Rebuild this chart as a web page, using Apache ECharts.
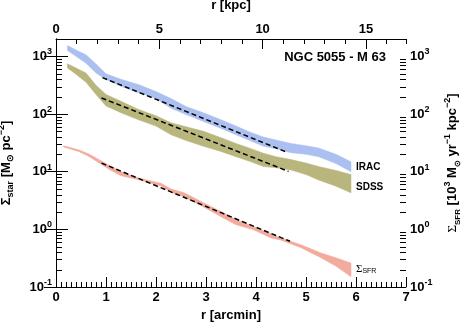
<!DOCTYPE html>
<html>
<head>
<meta charset="utf-8">
<script src="https://cdn.jsdelivr.net/npm/echarts@6/dist/echarts.min.js"></script>
<style>
html, body { margin: 0; padding: 0; background: #fff; }
#chart { width: 463px; height: 327px; }
</style>
</head>
<body>
<div id="chart"></div>
<script>
// radius in arcmin, surface densities
const starX = [0.23, 0.4, 0.6, 0.8, 1.0, 1.3, 1.65, 2.0, 2.3, 2.6, 2.95, 3.3, 3.6, 3.9, 4.15, 4.4, 4.7, 5.0, 5.25, 5.6, 5.9];
const iracHi = [1550, 1290, 1070, 740, 500, 400, 324, 245, 186, 135, 105, 79.4, 61.7, 47.9, 39.8, 35.5, 30.9, 28.2, 25.7, 20.0, 14.8];
const iracLo = [1260, 1000, 759, 513, 398, 302, 234, 186, 126, 97.7, 74.1, 56.2, 43.7, 33.9, 27.5, 25.1, 21.4, 20.0, 18.2, 13.8, 10.0];
const sdssHi = [741, 631, 513, 316, 219, 166, 120, 93.3, 70.8, 60.3, 50.1, 38.9, 30.9, 25.1, 20.9, 18.2, 16.2, 14.1, 12.3, 10.5, 8.9];
const sdssLo = [631, 490, 355, 219, 138, 105, 79.4, 61.7, 43.7, 34.7, 27.5, 22.4, 18.2, 14.8, 12.3, 11.7, 10.7, 8.9, 7.2, 5.6, 4.3];

const sfrX = [0.15, 0.45, 0.65, 0.9, 1.1, 1.3, 1.65, 1.9, 2.1, 2.3, 2.55, 2.75, 2.95, 3.3, 3.6, 3.95, 4.3, 4.5, 4.9, 5.3, 5.6, 5.9];
const sfrHi = [28.2, 24.0, 20.4, 15.5, 12.3, 10.0, 7.76, 6.92, 6.31, 5.01, 4.37, 3.55, 2.88, 2.04, 1.48, 1.12, 0.83, 0.71, 0.54, 0.39, 0.32, 0.26];
const sfrLo = [26.9, 22.4, 18.6, 13.5, 10.5, 8.51, 7.24, 6.31, 5.62, 4.37, 3.72, 3.02, 2.45, 1.66, 1.20, 0.98, 0.71, 0.65, 0.48, 0.32, 0.23, 0.15];

// exponential fits (end points)
const iracFit = [[0.93, 427], [4.64, 21.4]];
const sdssFit = [[0.91, 190], [4.65, 10.1]];
const sfrFit = [[0.91, 14.1], [4.68, 0.62]];

const xMin = 0, xMax = 7;
const yMin = 0.1, yMax = 2000;
const kpcPerArcmin = 2.42;
const decades = [0.1, 1, 10, 100, 1000];

// log minor ticks 2..9 per decade
const minorVals = [];
decades.forEach(function (d) {
  for (let k = 2; k <= 9; k++) {
    const v = d * k;
    if (v < yMax) minorVals.push([0, v]);
  }
});

const chart = echarts.init(document.getElementById('chart'));
const font = 'Liberation Sans, Arial, sans-serif';
const black = '#000';

function bandSeries(name, xs, lo, hi, color) {
  return {
    type: 'custom',
    name: name,
    xAxisIndex: 0,
    yAxisIndex: 0,
    data: xs.map(function (x, i) { return [x, lo[i], hi[i]]; }),
    encode: { x: 0, y: [1, 2] },
    renderItem: function (params, api) {
      if (params.dataIndex !== 0) return null;
      const pts = [];
      for (let i = 0; i < xs.length; i++) pts.push(api.coord([xs[i], hi[i]]));
      for (let i = xs.length - 1; i >= 0; i--) pts.push(api.coord([xs[i], lo[i]]));
      return { type: 'polygon', shape: { points: pts }, style: { fill: color, stroke: color, lineWidth: 0.5 } };
    },
    z: 2
  };
}

function fitSeries(pts) {
  return {
    type: 'line',
    data: pts,
    symbol: 'none',
    lineStyle: { color: black, width: 1.5, type: [5, 3] },
    z: 5
  };
}

const sup = { fontSize: 9, fontWeight: 'bold', fontFamily: font, color: black, verticalAlign: 'top', padding: [0, 0, 6, 0] };
const big = { fontSize: 13, fontWeight: 'bold', fontFamily: font, color: black, lineHeight: 18 };
function powLabel(v) {
  const e = Math.round(Math.log10(v));
  if (Math.abs(Math.log10(v) - e) > 1e-6) return '';
  return '{b|10}{s|' + e + '}';
}

const logAxis = {
  type: 'log',
  logBase: 10,
  min: yMin,
  max: yMax,
  axisLine: { show: true, lineStyle: { color: black, width: 1 } },
  axisTick: { inside: true, length: 12, lineStyle: { color: black } },
  splitLine: { show: false },
  axisLabel: { formatter: powLabel, rich: { b: big, s: sup }, margin: 4, showMaxLabel: false },
  nameLocation: 'middle',
  nameRotate: 90
};

chart.setOption({
  animation: false,
  backgroundColor: '#fff',
  grid: { left: 56, right: 57, top: 39, bottom: 40, containLabel: false, outerBoundsMode: 'none' },
  xAxis: [
    {
      type: 'value', position: 'bottom', min: xMin, max: xMax, interval: 1,
      axisLine: { lineStyle: { color: black, width: 1 } },
      axisTick: { inside: true, length: 10, lineStyle: { color: black } },
      minorTick: { show: true, splitNumber: 10, length: 5, lineStyle: { color: black } },
      splitLine: { show: false },
      axisLabel: { color: black, fontSize: 13, fontWeight: 'bold', fontFamily: font, margin: 4 },
      name: 'r [arcmin]', nameLocation: 'middle', nameGap: 22,
      nameTextStyle: { color: black, fontSize: 13, fontWeight: 'bold', fontFamily: font }
    },
    {
      type: 'value', position: 'top', min: 0, max: xMax * kpcPerArcmin, interval: 5,
      axisLine: { lineStyle: { color: black, width: 1 } },
      axisTick: { inside: true, length: 10, lineStyle: { color: black } },
      splitLine: { show: false },
      axisLabel: { color: black, fontSize: 13, fontWeight: 'bold', fontFamily: font, margin: 3, showMaxLabel: false },
      name: 'r [kpc]', nameLocation: 'middle', nameGap: 27,
      nameTextStyle: { color: black, fontSize: 13, fontWeight: 'bold', fontFamily: font }
    },
    {
      type: 'value', position: 'top', min: 0, max: xMax * kpcPerArcmin, interval: 1,
      axisLine: { show: false },
      axisTick: { inside: true, length: 5, lineStyle: { color: black } },
      splitLine: { show: false },
      axisLabel: { show: false }
    }
  ],
  yAxis: [
    Object.assign({}, logAxis, {
      position: 'left',
      name: '{g|Σ}{sb|star}{b| [M}{sb|⊙}{b| pc}{s|−2}{b|]}',
      nameGap: 41,
      nameTextStyle: { rich: {
        g: big, b: big, s: sup,
        sb: { fontSize: 9, fontWeight: 'bold', fontFamily: font, color: black, verticalAlign: 'bottom', padding: [5, 0, 0, 0] }
      } }
    }),
    Object.assign({}, logAxis, {
      position: 'right',
      name: '{g|Σ}{sb|SFR}{b| [10}{s|3}{b| M}{sb|⊙}{b| yr}{s|−1}{b| kpc}{s|−2}{b|]}',
      nameGap: 37,
      nameTextStyle: { rich: {
        g: { fontSize: 13, fontFamily: 'Liberation Serif, serif', color: black, lineHeight: 18 },
        b: big, s: sup,
        sb: { fontSize: 8, fontWeight: 'bold', fontFamily: font, color: black, verticalAlign: 'bottom', padding: [5, 0, 0, 0] }
      } }
    })
  ],
  series: [
    bandSeries('IRAC', starX, iracLo, iracHi, '#abc0f0'),
    bandSeries('SDSS', starX, sdssLo, sdssHi, '#b8b57d'),
    bandSeries('SFR', sfrX, sfrLo, sfrHi, '#f3ab9d'),
    fitSeries(iracFit),
    fitSeries(sdssFit),
    fitSeries(sfrFit),
    {
      type: 'custom',
      xAxisIndex: 0,
      yAxisIndex: 0,
      data: minorVals,
      encode: { x: 0, y: 1 },
      renderItem: function (params, api) {
        const v = api.value(1);
        const l = api.coord([xMin, v]);
        const r = api.coord([xMax, v]);
        const y = Math.round(l[1]) + 0.5;
        return {
          type: 'group',
          children: [
            { type: 'line', shape: { x1: l[0], y1: y, x2: l[0] + 6, y2: y }, style: { stroke: black, lineWidth: 1 } },
            { type: 'line', shape: { x1: r[0], y1: y, x2: r[0] - 6, y2: y }, style: { stroke: black, lineWidth: 1 } }
          ]
        };
      },
      silent: true,
      z: 6
    }
  ],
  graphic: [
    { type: 'text', right: 77, top: 51, style: { text: 'NGC 5055 - M 63', font: 'bold 13px ' + font, fill: black } },
    { type: 'text', left: 356, top: 162, style: { text: 'IRAC', font: 'bold 10px ' + font, fill: black } },
    { type: 'text', left: 356, top: 182, style: { text: 'SDSS', font: 'bold 10px ' + font, fill: black } },
    { type: 'text', left: 356, top: 264, style: {
      text: '{g|Σ}{s|SFR}',
      rich: {
        g: { fontSize: 11, fontFamily: 'Liberation Serif, serif', fill: black },
        s: { fontSize: 7, fontFamily: font, fill: black, verticalAlign: 'bottom', padding: [4, 0, 0, 0] }
      }
    } }
  ]
});
</script>
</body>
</html>
